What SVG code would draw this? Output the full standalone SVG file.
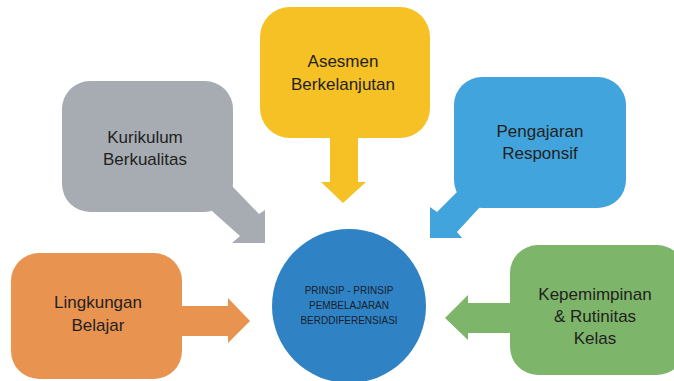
<svg xmlns="http://www.w3.org/2000/svg" width="674" height="381" viewBox="0 0 674 381">
<style>
.lbl{font-family:"Liberation Sans",Arial,sans-serif;font-size:17px;fill:#231F20;text-anchor:middle}
.sm{font-family:"Liberation Sans",Arial,sans-serif;font-size:10px;fill:#17202c;text-anchor:middle}
</style>
<rect width="674" height="381" fill="#ffffff"/>
<g id="connectors">
<polygon fill="#F6C125" points="330,130 358,130 358,182 366,182 343,203 321,182 330,182"/>
<polygon fill="#A7ACB3" points="225,180 233,187 259,214 265,210 265,243 232,243 240,236 213,212 205,200"/>
<polygon fill="#41A4DC" points="470,195 480,207 457,232 462,238 430,238 430,207 437,212 457,192"/>
<polygon fill="#7DB56A" points="515,303 468,303 468,295 445,318 468,340 468,333 515,333"/>
<polygon fill="#E99351" points="175,306 228,306 228,298 250,321 228,343 228,336 175,336"/>
</g>
<g id="asesmen">
<rect x="260" y="7" width="170" height="131" rx="30" fill="#F6C125"/>
<text class="lbl" x="343" y="67">Asesmen</text>
<text class="lbl" x="343" y="90">Berkelanjutan</text>
</g>
<g id="kurikulum">
<rect x="62" y="81" width="171" height="131" rx="28" fill="#A7ACB3"/>
<text class="lbl" x="145" y="143">Kurikulum</text>
<text class="lbl" x="145" y="165">Berkualitas</text>
</g>
<g id="pengajaran">
<rect x="454" y="77" width="172" height="131" rx="28" fill="#41A4DC"/>
<text class="lbl" x="540" y="137">Pengajaran</text>
<text class="lbl" x="540" y="159">Responsif</text>
</g>
<g id="kepemimpinan">
<rect x="510" y="245" width="175" height="130" rx="28" fill="#7DB56A"/>
<text class="lbl" x="595" y="300">Kepemimpinan</text>
<text class="lbl" x="595" y="322">&amp; Rutinitas</text>
<text class="lbl" x="595" y="344">Kelas</text>
</g>
<g id="lingkungan">
<rect x="11" y="253" width="171" height="126" rx="28" fill="#E99351"/>
<text class="lbl" x="98" y="308">Lingkungan</text>
<text class="lbl" x="98" y="331">Belajar</text>
</g>
<g id="prinsip">
<circle cx="349" cy="306" r="77" fill="#2F83C4"/>
<text class="sm" x="349" y="294">PRINSIP - PRINSIP</text>
<text class="sm" x="349" y="309">PEMBELAJARAN</text>
<text class="sm" x="349" y="324">BERDDIFERENSIASI</text>
</g>
</svg>
